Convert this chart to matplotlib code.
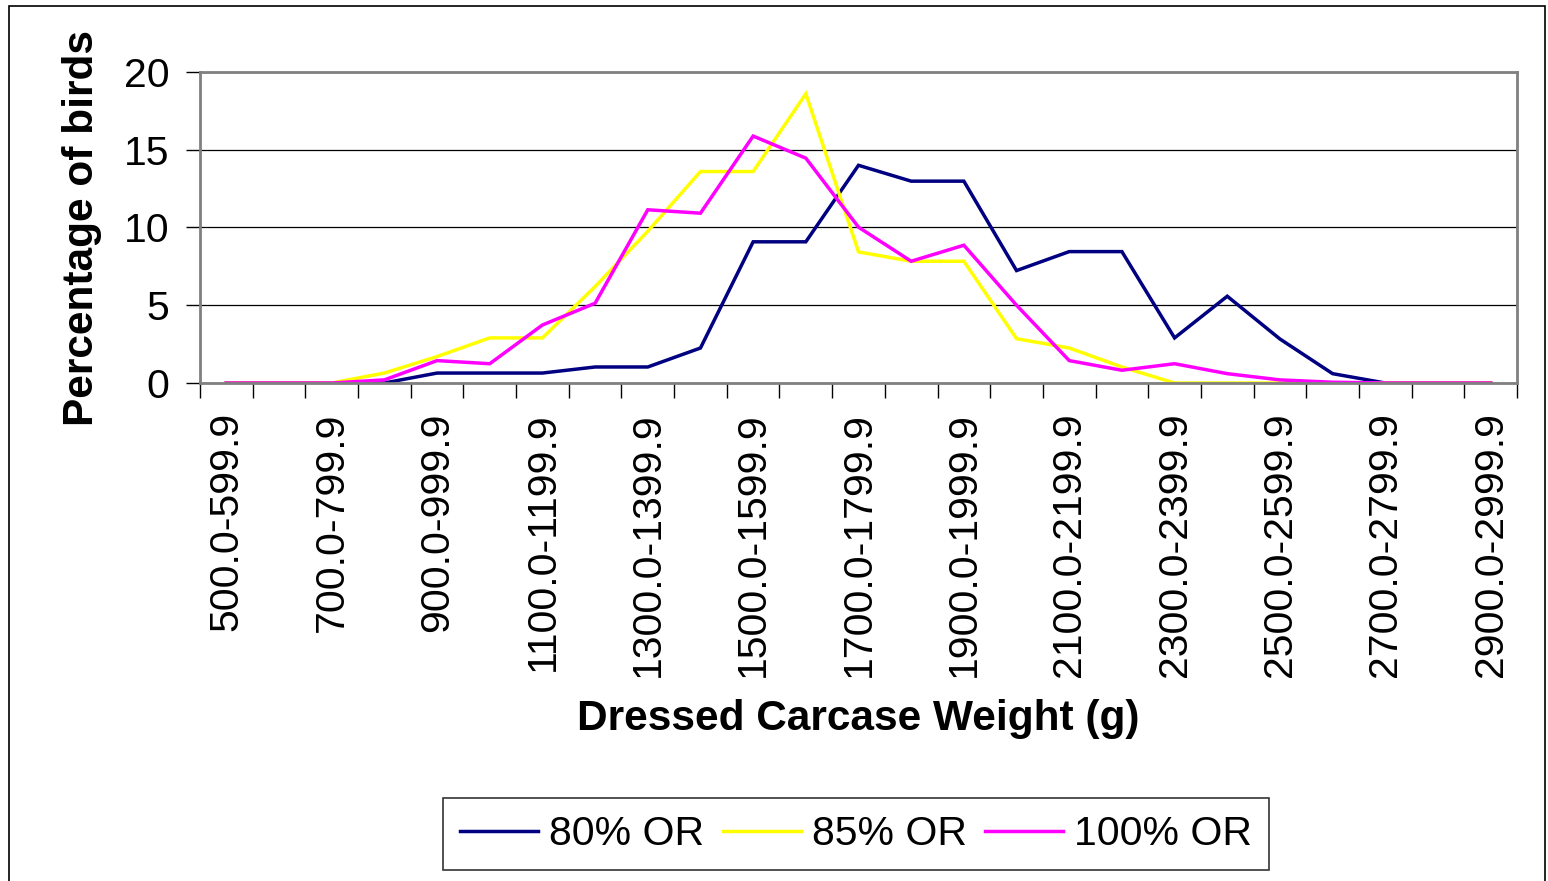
import matplotlib
matplotlib.use("Agg")
import matplotlib.pyplot as plt
from matplotlib.patches import Rectangle
import numpy as np

plt.rcParams['font.family'] = ['Liberation Sans', 'DejaVu Sans']

# 体重階級 (g)
categories = ["500.0-599.9", "600.0-699.9", "700.0-799.9", "800.0-899.9",
              "900.0-999.9", "1000.0-1099.9", "1100.0-1199.9", "1200.0-1299.9",
              "1300.0-1399.9", "1400.0-1499.9", "1500.0-1599.9", "1600.0-1699.9",
              "1700.0-1799.9", "1800.0-1899.9", "1900.0-1999.9", "2000.0-2099.9",
              "2100.0-2199.9", "2200.0-2299.9", "2300.0-2399.9", "2400.0-2499.9",
              "2500.0-2599.9", "2600.0-2699.9", "2700.0-2799.9", "2800.0-2899.9",
              "2900.0-2999.9"]

# 各系列の割合 (%)
or80 = [0, 0, 0, 0, 0.64, 0.64, 0.64, 1.03, 1.03, 2.25, 9.08, 9.08, 14.0,
        12.98, 12.98, 7.23, 8.45, 8.45, 2.9, 5.58, 2.83, 0.6, 0, 0, 0]
or85 = [0, 0, 0, 0.64, 1.7, 2.9, 2.9, 6.2, 9.76, 13.6, 13.6, 18.6, 8.43,
        7.83, 7.83, 2.85, 2.25, 1.03, 0, 0, 0, 0, 0, 0, 0]
or100 = [0, 0, 0, 0.2, 1.44, 1.24, 3.73, 5.13, 11.14, 10.92, 15.88, 14.46, 10.02,
         7.83, 8.86, 5.0, 1.44, 0.82, 1.24, 0.6, 0.2, 0.05, 0, 0, 0]

series = [("80% OR", or80, "#000080"),
          ("85% OR", or85, "#FFFF00"),
          ("100% OR", or100, "#FF00FF")]

FS = 29.5
FS_B = 30.5

fig = plt.figure(figsize=(15.48, 8.81), dpi=100)
ax = fig.add_axes([200 / 1548, 1 - 383 / 881, 1317 / 1548, 311 / 881])

x = np.arange(len(categories))
for name, vals, col in series:
    ax.plot(x, vals, color=col, lw=2.5, label=name, solid_joinstyle='miter')

ax.set_xlim(-0.5, len(categories) - 0.5)
ax.set_ylim(0, 20)
ax.set_yticks([0, 5, 10, 15, 20])
ax.grid(axis='y', color='black', lw=0.9)
ax.set_axisbelow(True)

# 目盛り: 区切りに主目盛り、ラベルは1つおきに中央へ
ax.set_xticks(np.arange(-0.5, len(categories)), labels=[])
ax.set_xticks(x[::2], labels=categories[::2], minor=True, rotation=90)
ax.tick_params(axis='x', which='major', length=11, width=1, direction='out')
ax.tick_params(axis='x', which='minor', length=0, pad=21, labelsize=FS)
ax.tick_params(axis='y', length=10, width=1, pad=12, labelsize=FS)

for s in ax.spines.values():
    s.set_color('#808080')
    s.set_linewidth(2)

ax.set_ylabel("Percentage of birds", fontsize=FS_B, fontweight='bold', labelpad=16)
ax.set_xlabel("Dressed Carcase Weight (g)", fontsize=FS_B, fontweight='bold', labelpad=16)

leg = fig.legend(loc='center', bbox_to_anchor=(856 / 1548, 1 - 834 / 881), ncol=3,
                 fontsize=FS, frameon=True, fancybox=False, handlelength=1.9,
                 handletextpad=0.27, columnspacing=0.45, borderpad=0.42)
leg.get_frame().set_edgecolor('black')
leg.get_frame().set_linewidth(1.2)

# 外枠
fig.patches.append(Rectangle((9 / 1548, -0.05), 1536 / 1548, 1.05 - 6 / 881,
                             transform=fig.transFigure, fill=False,
                             edgecolor='black', lw=1.2))

fig.savefig("out.png", dpi=100)
